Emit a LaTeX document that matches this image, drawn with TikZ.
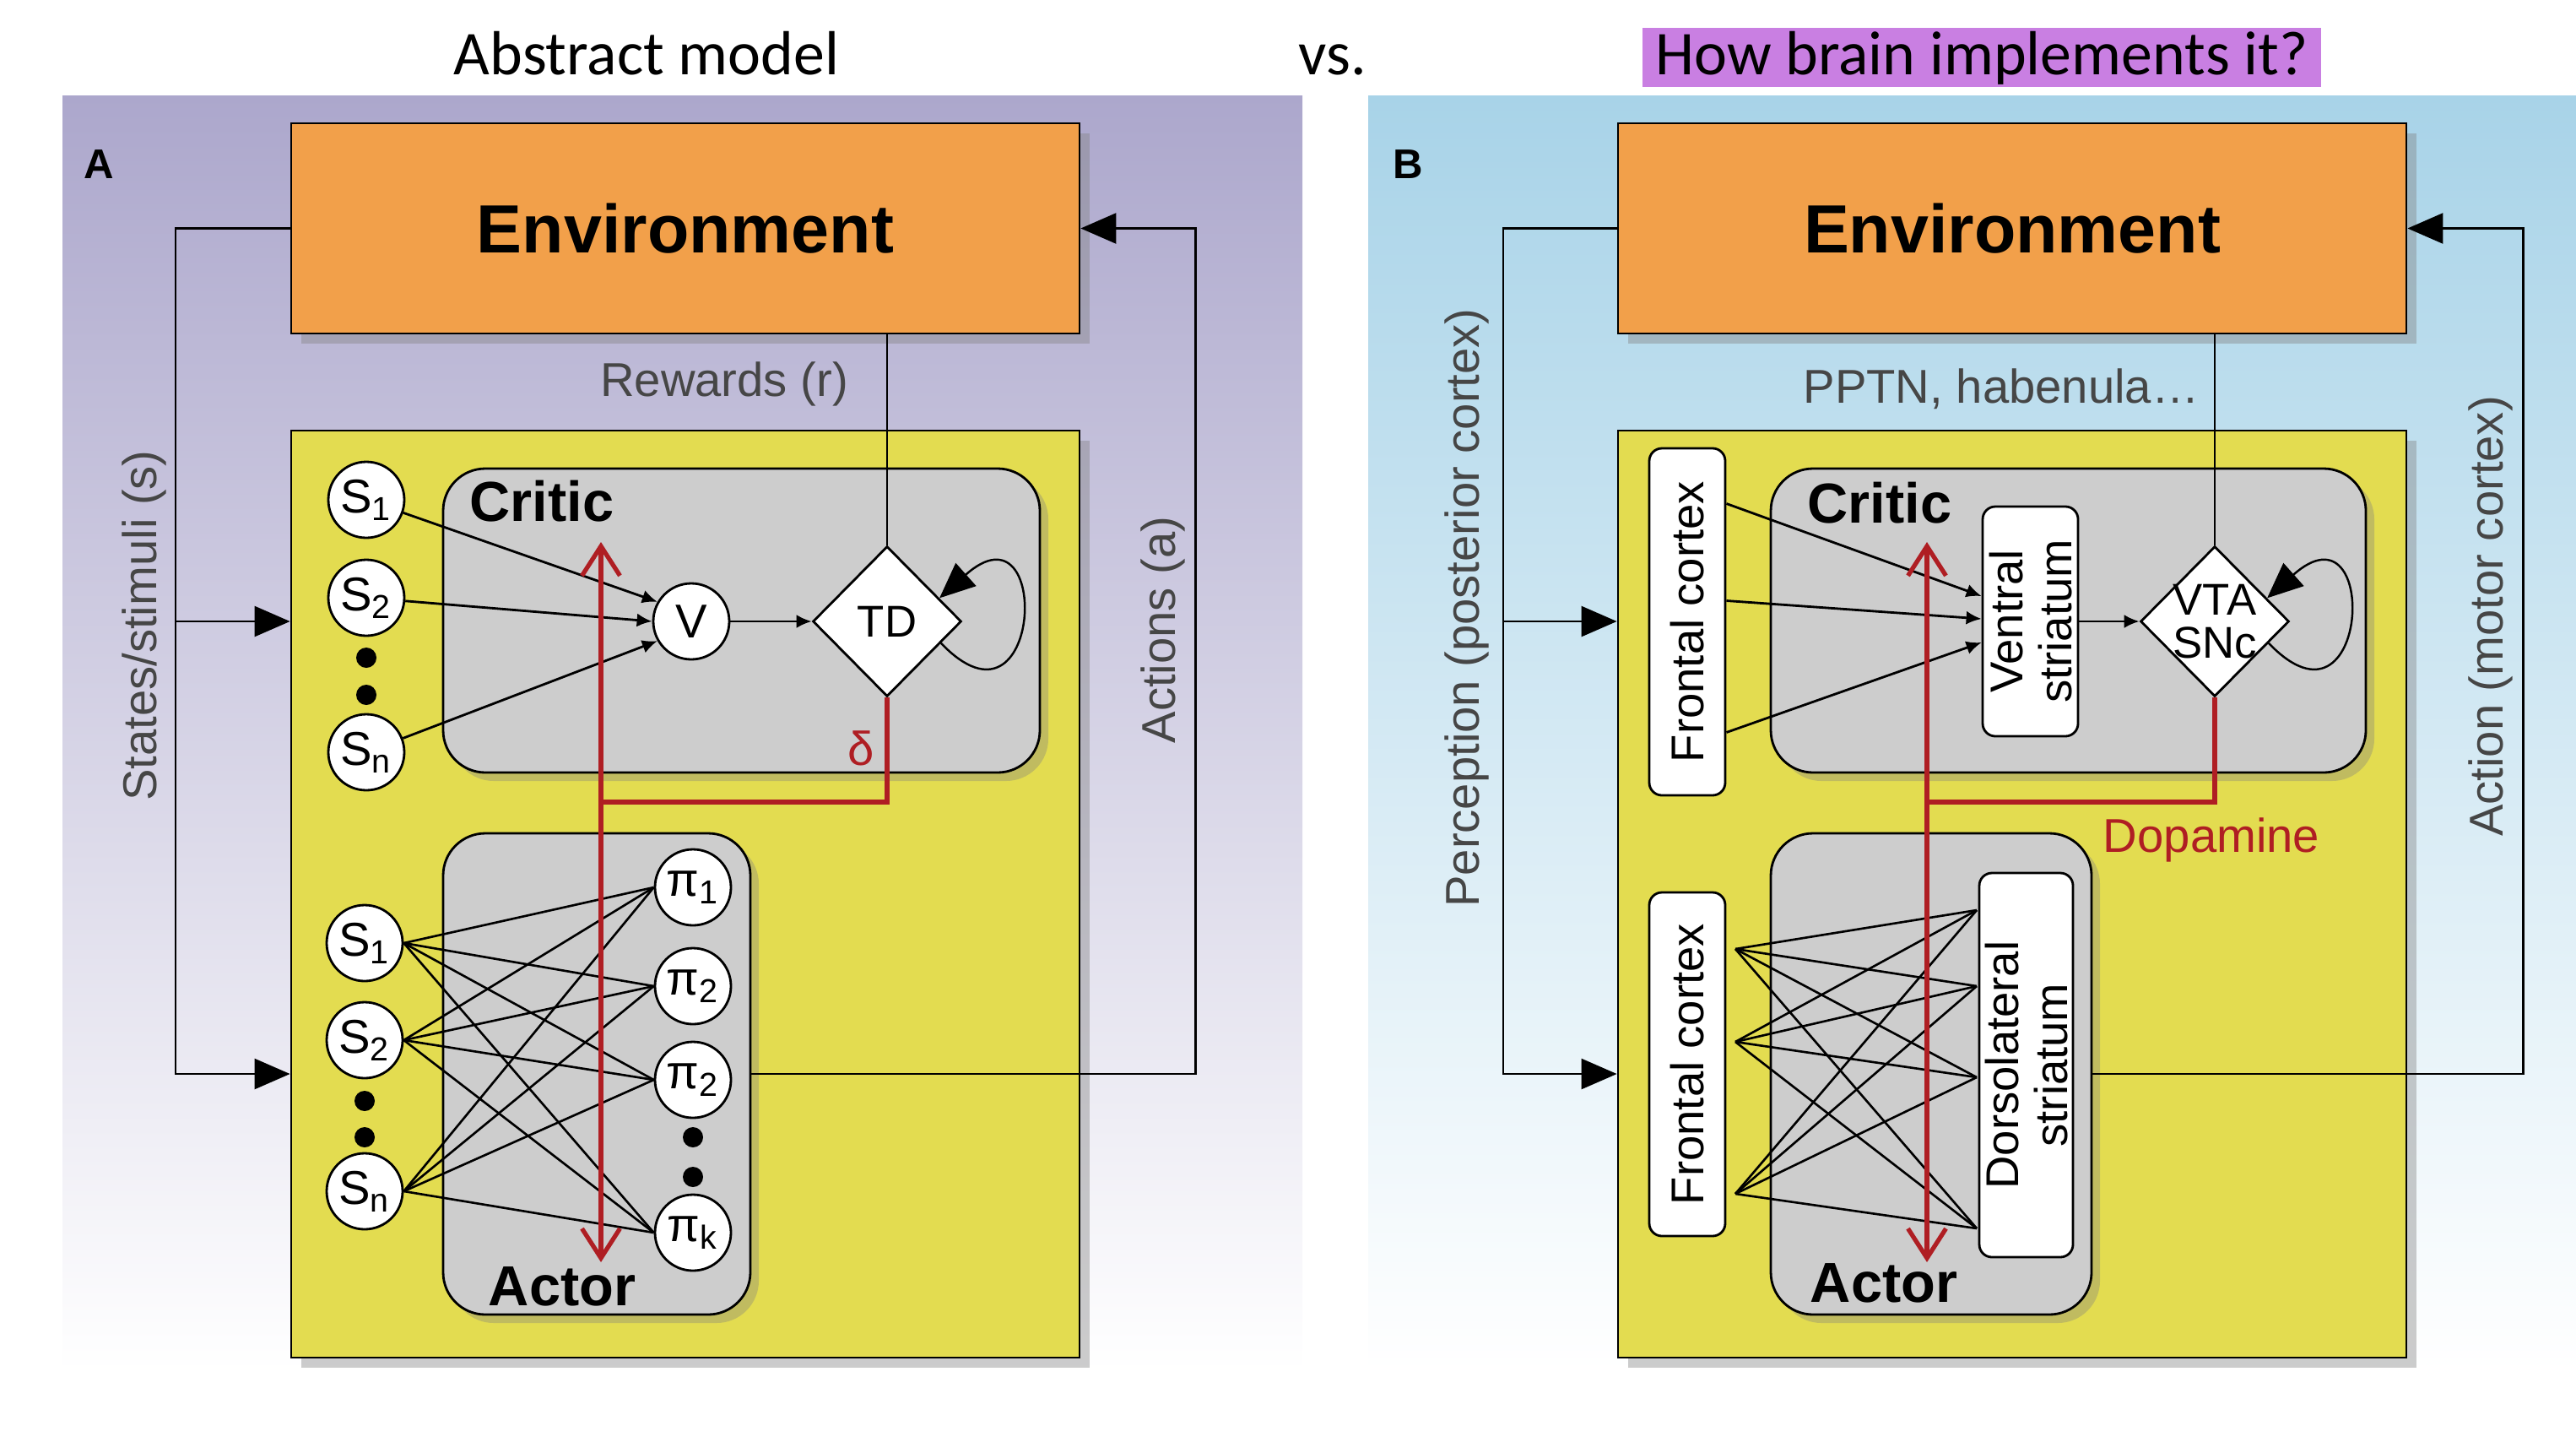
\documentclass[tikz,border=0pt]{standalone}
\usepackage{fontspec}
\setmainfont{Liberation Sans}
\newfontfamily\titlefont{Carlito}
\usetikzlibrary{positioning, shapes.geometric, calc, arrows.meta, shadows}
\definecolor{bgLav}{RGB}{172, 167, 204}
\definecolor{bgSky}{RGB}{168, 211, 232}
\definecolor{envOrange}{RGB}{242, 160, 74}
\definecolor{agentYellow}{RGB}{227, 220, 80}
\definecolor{modGray}{RGB}{205, 205, 205}
\definecolor{sigRed}{RGB}{175, 30, 35}
\definecolor{txtGray}{RGB}{70, 70, 70}
\definecolor{markPurple}{RGB}{201, 127, 226}
\tikzset{
    base/.style={
        font=\fontsize{16}{18}\selectfont,
        align=center
    },
    envbox/.style={
        base,
        rectangle,
        draw=black,
        thick,
        fill=envOrange,
        minimum width=9.34cm,
        minimum height=2.49cm,
        font=\fontsize{23}{27}\selectfont\bfseries,
        drop shadow={opacity=0.4, shadow xshift=1.2mm, shadow yshift=-1.2mm}
    },
    agentbox/.style={
        rectangle,
        draw=black,
        thick,
        fill=agentYellow,
        minimum width=9.34cm,
        minimum height=10.98cm,
        drop shadow={opacity=0.4, shadow xshift=1.2mm, shadow yshift=-1.2mm}
    },
    module/.style={
        rectangle,
        rounded corners=5mm,
        draw=black,
        thick,
        fill=modGray,
        drop shadow={opacity=0.35, shadow xshift=1mm, shadow yshift=-1mm}
    },
    unit/.style={
        base,
        circle,
        draw=black,
        thick,
        fill=white,
        minimum size=0.9cm,
        inner sep=0pt
    },
    gate/.style={
        base,
        diamond,
        draw=black,
        thick,
        fill=white,
        font=\fontsize{15}{14.5}\selectfont,
        minimum width=1.76cm,
        minimum height=1.78cm,
        inner sep=-3pt
    },
    area/.style={
        base,
        rectangle,
        rounded corners=1.5mm,
        draw=black,
        thick,
        fill=white,
        rotate=90,
        inner sep=0pt,
        font=\fontsize{15.5}{16.5}\selectfont
    },
    ellip/.style={
        circle,
        fill=black,
        minimum size=0.24cm,
        inner sep=0pt
    },
    flow/.style={
        -{Latex[length=1.8mm, width=1.6mm]},
        line width=0.8pt
    },
    wire/.style={
        line width=0.7pt
    },
    net/.style={
        line width=0.75pt
    },
    loopflow/.style={
        -{Triangle[length=4.2mm, width=3.6mm]},
        line width=0.7pt
    },
    tdsignal/.style={
        draw=sigRed,
        line width=1.5pt
    },
    redtips/.style={
        {Straight Barb[length=3.5mm, width=4.5mm]}-{Straight Barb[length=3.5mm, width=4.5mm]}
    },
    sidelabel/.style={
        base,
        rotate=90,
        text=txtGray
    },
    modlabel/.style={
        font=\fontsize{19}{22}\selectfont\bfseries
    },
    panel/.style={
        font=\fontsize{14}{16}\selectfont\bfseries
    },
    title/.style={
        font=\titlefont\fontsize{21}{25}\selectfont,
        anchor=base
    }
}

\begin{document}
\begin{tikzpicture}[x=1cm, y=-1cm]
  \useasboundingbox (0,0) rectangle (30.52,17.20);

  % Backgrounds and titles
  \fill[top color=bgLav, middle color=bgLav!70, bottom color=white] (0.74,1.13) rectangle (15.43,16.25);
  \fill[top color=bgSky, middle color=bgSky!70, bottom color=white] (16.21,1.13) rectangle (30.52,16.25);
  \fill[markPurple] (19.46,0.33) rectangle (27.50,1.03);
  \node[title] (ttlA) at (7.66,0.88) {Abstract model};
  \node[title] (ttlvs) at (15.79,0.88) {vs.};
  \node[title] (ttlB) at (23.48,0.88) {How brain implements it?};

  % Panel A: abstract model
  \node[panel] (lblA) at (1.17,1.95) {A};
  \node[envbox] (envA) at (8.12,2.705) {Environment};
  \node[agentbox] (agA) at (8.12,10.59) {};
  \node[module, minimum width=7.07cm, minimum height=3.60cm] (critA) at (8.785,7.35) {};
  \node[module, minimum width=3.64cm, minimum height=5.70cm] (actA) at (7.07,12.72) {};
  \node[modlabel] (critAl) at (6.42,5.94) {Critic};
  \node[modlabel] (actAl) at (6.66,15.24) {Actor};
  \node[base, text=txtGray] (rwA) at (8.58,4.55) {Rewards (r)};
  \node[sidelabel] (stlA) at (1.71,7.41) {States/stimuli (s)};
  \node[sidelabel] (aclA) at (13.78,7.46) {Actions (a)};

  \node[unit] (cs1) at (4.34,5.92) {S\textsubscript{1}};
  \node[unit] (cs2) at (4.34,7.08) {S\textsubscript{2}};
  \node[ellip] (cd1) at (4.34,7.79) {};
  \node[ellip] (cd2) at (4.34,8.23) {};
  \node[unit] (csn) at (4.34,8.91) {S\textsubscript{n}};
  \node[unit] (val) at (8.19,7.36) {V};
  \node[gate] (td) at (10.51,7.36) {TD};

  \node[unit] (as1) at (4.32,11.17) {S\textsubscript{1}};
  \node[unit] (as2) at (4.32,12.32) {S\textsubscript{2}};
  \node[ellip] (ad1) at (4.32,13.04) {};
  \node[ellip] (ad2) at (4.32,13.47) {};
  \node[unit] (asn) at (4.32,14.11) {S\textsubscript{n}};
  \node[unit] (ap1) at (8.21,10.51) {π\textsubscript{1}};
  \node[unit] (ap2) at (8.21,11.68) {π\textsubscript{2}};
  \node[unit] (ap3) at (8.21,12.79) {π\textsubscript{2}};
  \node[ellip] (ad3) at (8.21,13.47) {};
  \node[ellip] (ad4) at (8.21,13.94) {};
  \node[unit] (apk) at (8.21,14.60) {π\textsubscript{k}};

  \coordinate (stA) at (2.08,7.36);
  \draw[loopflow] (envA.west) -| (stA) |- (agA.west |- actA.east);
  \draw[loopflow] (stA) -- (agA.west |- stA);
  \draw[loopflow] (actA.east) -- ++(5.26,0) |- (envA.east);
  \draw[wire] (envA.south -| td.north) -- (td.north);

  \draw[flow] (cs1) -- (val.150);
  \draw[flow] (cs2) -- (val.180);
  \draw[flow] (csn) -- (val.210);
  \draw[flow] (val) -- (td);
  \draw[loopflow] (td.-22) .. controls +(1.2,1.25) and +(1.35,-1.2) .. (td.24);

  \foreach \s in {as1,as2,asn}
    \foreach \p in {ap1,ap2,ap3,apk}
      \draw[net] (\s.east) -- (\p.west);

  \coordinate (dJoinA) at (7.12,9.50);
  \coordinate (dTopA) at (7.12,6.42);
  \coordinate (dBotA) at (7.12,14.95);
  \draw[tdsignal] (td.south) |- (dJoinA);
  \draw[tdsignal, redtips] (dTopA) -- (dBotA);
  \node[base, text=sigRed] (delta) at (10.20,8.86) {δ};

  % Panel B: brain implementation
  \node[panel] (lblB) at (16.68,1.95) {B};
  \node[envbox] (envB) at (23.84,2.705) {Environment};
  \node[agentbox] (agB) at (23.84,10.59) {};
  \node[module, minimum width=7.05cm, minimum height=3.60cm] (critB) at (24.505,7.35) {};
  \node[module, minimum width=3.80cm, minimum height=5.70cm] (actB) at (22.88,12.72) {};
  \node[modlabel] (critBl) at (22.27,5.96) {Critic};
  \node[modlabel] (actBl) at (22.32,15.20) {Actor};
  \node[base, text=txtGray] (pptn) at (23.71,4.61) {PPTN, habenula…};
  \node[sidelabel] (perc) at (17.38,7.20) {Perception (posterior cortex)};
  \node[sidelabel] (motor) at (29.51,7.30) {Action (motor cortex)};

  % rotated boxes: .south is the right side, .north the left side
  \node[area, minimum width=4.11cm, minimum height=0.9cm] (fcC) at (19.99,7.365) {Frontal cortex};
  \node[area, minimum width=2.72cm, minimum height=1.13cm] (vs) at (24.055,7.36) {Ventral\\striatum};
  \node[gate] (vta) at (26.24,7.36) {VTA\\SNc};
  \node[area, minimum width=4.07cm, minimum height=0.9cm] (fcA) at (19.99,12.605) {Frontal cortex};
  \node[area, minimum width=4.55cm, minimum height=1.11cm] (dls) at (24.005,12.615) {Dorsolateral\\striatum};

  \coordinate (pcB) at (17.81,7.36);
  \draw[loopflow] (envB.west) -| (pcB) |- (agB.west |- actB.east);
  \draw[loopflow] (pcB) -- (agB.west |- pcB);
  \draw[loopflow] (actB.east) -- ++(5.10,0) |- (envB.east);
  \draw[wire] (envB.south -| vta.north) -- (vta.north);

  \draw[flow] ($(fcC.south)+(0,-1.40)$) -- ($(vs.north)+(0,-0.30)$);
  \draw[flow] ($(fcC.south)+(0,-0.25)$) -- ($(vs.north)+(0,-0.03)$);
  \draw[flow] ($(fcC.south)+(0,1.31)$) -- ($(vs.north)+(0,0.25)$);
  \draw[flow] (vs.south) -- (vta);
  \draw[loopflow] (vta.-22) .. controls +(1.2,1.25) and +(1.35,-1.2) .. (vta.24);

  \foreach \k/\y in {1/11.24, 2/12.34, 3/14.14}
    \coordinate (fo\k) at (20.56,\y);
  \foreach \k/\y in {1/10.78, 2/11.68, 3/12.76, 4/14.55}
    \coordinate (di\k) at (23.42,\y);
  \foreach \i in {1,2,3}
    \foreach \j in {1,2,3,4}
      \draw[net] (fo\i) -- (di\j);

  \coordinate (dJoinB) at (22.83,9.50);
  \coordinate (dTopB) at (22.83,6.42);
  \coordinate (dBotB) at (22.83,14.95);
  \draw[tdsignal] (vta.south) |- (dJoinB);
  \draw[tdsignal, redtips] (dTopB) -- (dBotB);
  \node[base, text=sigRed] (dopa) at (26.20,9.95) {Dopamine};
\end{tikzpicture}
\end{document}
